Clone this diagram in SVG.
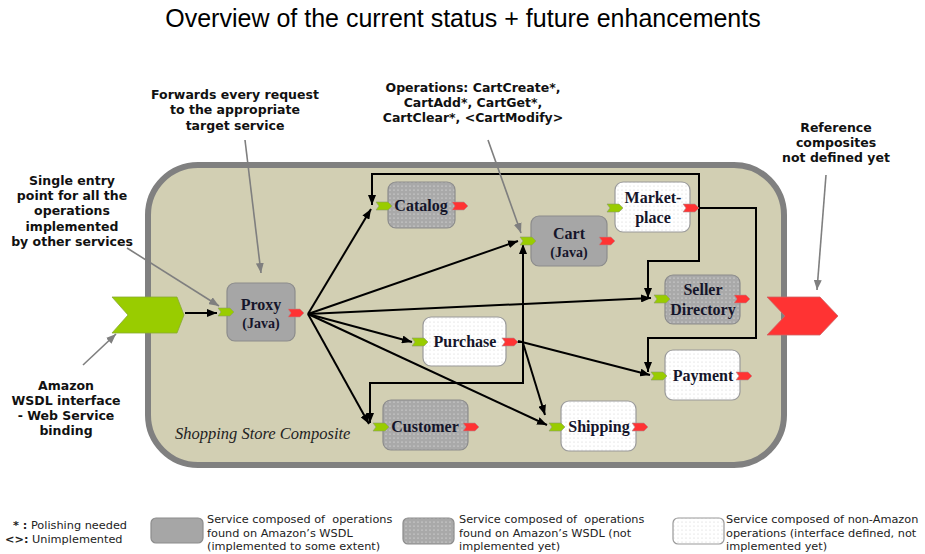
<svg xmlns="http://www.w3.org/2000/svg" width="925" height="554" viewBox="0 0 925 554">
<style>
.ann{font-family:"DejaVu Sans",Verdana,sans-serif;font-weight:bold;font-size:12.5px;fill:#111;text-anchor:middle}
.nt{font-family:"Liberation Serif","Times New Roman",serif;font-weight:bold;font-size:16px;fill:#15152a;text-anchor:middle}
.ns{font-family:"Liberation Serif","Times New Roman",serif;font-weight:bold;font-size:14px;fill:#15152a;text-anchor:middle}
.leg{font-family:"DejaVu Sans",Verdana,sans-serif;font-size:11.3px;fill:#222;white-space:pre}
.solid{fill:#a6a6a6;stroke:#8c8c8c;stroke-width:1.2}
.dotg{fill:url(#dotGray);stroke:#8c8c8c;stroke-width:1.2}
.dotw{fill:url(#dotWhite);stroke:#9a9a9a;stroke-width:1.2}
.con{fill:none;stroke:#000;stroke-width:2;marker-end:url(#ah)}
.conn{fill:none;stroke:#000;stroke-width:2}
.gann{fill:none;stroke:#7f7f7f;stroke-width:1.6;marker-end:url(#gah)}
.pin{fill:#99cc00;stroke:#8c9a6a;stroke-width:0.6}
.pout{fill:#ff3333;stroke:#b09090;stroke-width:0.6}
</style>
<defs>
<pattern id="dotGray" width="4" height="4" patternUnits="userSpaceOnUse">
<rect width="4" height="4" fill="#a9a9a9"/><circle cx="2" cy="2" r="0.6" fill="#ececec"/>
</pattern>
<pattern id="dotWhite" width="4" height="4" patternUnits="userSpaceOnUse">
<rect width="4" height="4" fill="#ffffff"/><circle cx="2" cy="2" r="0.6" fill="#d0d0d0"/>
</pattern>
<marker id="ah" markerWidth="10" markerHeight="8" refX="10" refY="4" orient="auto" markerUnits="userSpaceOnUse">
<path d="M0,0 L10,4 L0,8 Z" fill="#000"/>
</marker>
<marker id="gah" markerWidth="10" markerHeight="8" refX="10" refY="4" orient="auto" markerUnits="userSpaceOnUse">
<path d="M0,0 L10,4 L0,8 Z" fill="#7f7f7f"/>
</marker>
<polygon id="port" points="0,0 12,0 16,4 12,8 0,8 3,4"/>
</defs>
<rect width="925" height="554" fill="#fff"/>
<text x="463" y="27" font-family="'Liberation Sans',Arial,sans-serif" font-size="25" text-anchor="middle" fill="#000">Overview of the current status + future enhancements</text>

<g id="composite">
<rect x="148" y="165" width="636" height="300" rx="50" ry="50" fill="#d2cfb3" stroke="#808080" stroke-width="6"/>
<text x="175" y="439" font-family="'Liberation Serif','Times New Roman',serif" font-style="italic" font-size="16.5" fill="#222">Shopping Store Composite</text>
</g>

<g id="entry">
<polygon points="112,297 177,297 184,315 177,333 112,333 128,315" fill="#99cc00" stroke="#88aa33" stroke-width="0.8"/>
</g>
<g id="exit">
<polygon points="767,297 820,297 838,316 820,335 767,335 785,316" fill="#ff3333" stroke="#cc6666" stroke-width="0.8"/>
</g>

<g id="connectors">
<line class="con" x1="185" y1="313" x2="217" y2="313"/>
<line class="con" x1="308" y1="314" x2="371" y2="209"/>
<line class="con" x1="308" y1="314" x2="518" y2="241"/>
<line class="con" x1="308" y1="314" x2="651" y2="298"/>
<line class="con" x1="308" y1="314" x2="412" y2="342"/>
<line class="con" x1="308" y1="314" x2="369" y2="424"/>
<line class="con" x1="308" y1="314" x2="547" y2="425"/>
<polyline class="con" points="699,208 699,174 372,174 372,205"/>
<polyline class="con" points="699,208 699,261 648,261 648,298"/>
<polyline class="con" points="690,208 756,208 756,338 648,338 648,372"/>
<polyline class="conn" points="515,342 523,342"/>
<polyline class="con" points="523,342 523,244"/>
<polyline class="con" points="523,342 523,383 370,383 370,423"/>
<line class="con" x1="518" y1="341" x2="650" y2="375"/>
<line class="con" x1="523" y1="343" x2="545" y2="415"/>
</g>

<g id="proxy">
<rect class="solid" x="227" y="283" width="68" height="58" rx="8"/>
<text class="nt" x="261" y="310">Proxy</text>
<text class="ns" x="261" y="328">(Java)</text>
<use href="#port" class="pin" x="218" y="308"/>
<use href="#port" class="pout" x="288" y="309"/>
</g>
<g id="catalog">
<rect class="dotg" x="388" y="182" width="67" height="46" rx="8"/>
<text class="nt" x="421" y="211">Catalog</text>
<use href="#port" class="pin" x="376" y="202"/>
<use href="#port" class="pout" x="452" y="202"/>
</g>
<g id="cart">
<rect class="solid" x="531" y="216" width="76" height="50" rx="8"/>
<text class="nt" x="569" y="239">Cart</text>
<text class="ns" x="569" y="257">(Java)</text>
<use href="#port" class="pin" x="520" y="237"/>
<use href="#port" class="pout" x="599" y="237"/>
</g>
<g id="marketplace">
<rect class="dotw" x="615" y="182" width="75" height="50" rx="8"/>
<text class="nt" x="653" y="203">Market-</text>
<text class="nt" x="653" y="223">place</text>
<use href="#port" class="pin" x="607" y="204"/>
<use href="#port" class="pout" x="683" y="204"/>
</g>
<g id="seller-directory">
<rect class="dotg" x="665" y="275" width="75" height="49" rx="8"/>
<text class="nt" x="703" y="295">Seller</text>
<text class="nt" x="703" y="315">Directory</text>
<use href="#port" class="pin" x="654" y="295"/>
<use href="#port" class="pout" x="734" y="295"/>
</g>
<g id="purchase">
<rect class="dotw" x="423" y="317" width="83" height="49" rx="8"/>
<text class="nt" x="465" y="347">Purchase</text>
<use href="#port" class="pin" x="412" y="338"/>
<use href="#port" class="pout" x="502" y="338"/>
</g>
<g id="payment">
<rect class="dotw" x="665" y="350" width="75" height="50" rx="8"/>
<text class="nt" x="703" y="381">Payment</text>
<use href="#port" class="pin" x="651" y="372"/>
<use href="#port" class="pout" x="736" y="372"/>
</g>
<g id="customer">
<rect class="dotg" x="383" y="400" width="85" height="50" rx="8"/>
<text class="nt" x="425" y="432">Customer</text>
<use href="#port" class="pin" x="373" y="423"/>
<use href="#port" class="pout" x="463" y="423"/>
</g>
<g id="shipping">
<rect class="dotw" x="561" y="401" width="75" height="50" rx="8"/>
<text class="nt" x="599" y="432">Shipping</text>
<use href="#port" class="pin" x="549" y="423"/>
<use href="#port" class="pout" x="632" y="423"/>
</g>

<g id="annotations">
<text class="ann" x="72" y="185">Single entry</text>
<text class="ann" x="72" y="200">point for all the</text>
<text class="ann" x="72" y="215">operations</text>
<text class="ann" x="72" y="231">implemented</text>
<text class="ann" x="72" y="246">by other services</text>
<line class="gann" x1="127" y1="248" x2="219" y2="306"/>
<text class="ann" x="235" y="99">Forwards every request</text>
<text class="ann" x="235" y="114">to the appropriate</text>
<text class="ann" x="235" y="130">target service</text>
<line class="gann" x1="245" y1="140" x2="261" y2="273"/>
<text class="ann" x="473" y="92">Operations: CartCreate*,</text>
<text class="ann" x="473" y="107">CartAdd*, CartGet*,</text>
<text class="ann" x="473" y="122">CartClear*, &lt;CartModify&gt;</text>
<line class="gann" x1="488" y1="140" x2="521" y2="233"/>
<text class="ann" x="836" y="132">Reference</text>
<text class="ann" x="836" y="147">composites</text>
<text class="ann" x="836" y="162">not defined yet</text>
<line class="gann" x1="826" y1="175" x2="817" y2="290"/>
<text class="ann" x="66" y="390">Amazon</text>
<text class="ann" x="66" y="405">WSDL interface</text>
<text class="ann" x="66" y="420">- Web Service</text>
<text class="ann" x="66" y="435">binding</text>
<line class="gann" x1="83" y1="365" x2="116" y2="334"/>
</g>

<g id="legend">
<text class="leg" x="13" y="529"><tspan font-weight="bold">* :</tspan> Polishing needed</text>
<text class="leg" x="5" y="543"><tspan font-weight="bold">&lt;&gt;:</tspan> Unimplemented</text>
<rect class="solid" x="151" y="518" width="52" height="25" rx="5"/>
<text class="leg" x="207" y="523">Service composed of  operations</text>
<text class="leg" x="207" y="536.5">found on Amazon’s WSDL</text>
<text class="leg" x="207" y="550">(implemented to some extent)</text>
<rect class="dotg" x="403" y="518" width="51" height="26" rx="5"/>
<text class="leg" x="459" y="523">Service composed of  operations</text>
<text class="leg" x="459" y="536.5">found on Amazon’s WSDL (not</text>
<text class="leg" x="459" y="550">implemented yet)</text>
<rect class="dotw" x="673" y="518" width="51" height="26" rx="5"/>
<text class="leg" x="726" y="523">Service composed of non-Amazon</text>
<text class="leg" x="726" y="536.5">operations (interface defined, not</text>
<text class="leg" x="726" y="550">implemented yet)</text>
</g>
</svg>
